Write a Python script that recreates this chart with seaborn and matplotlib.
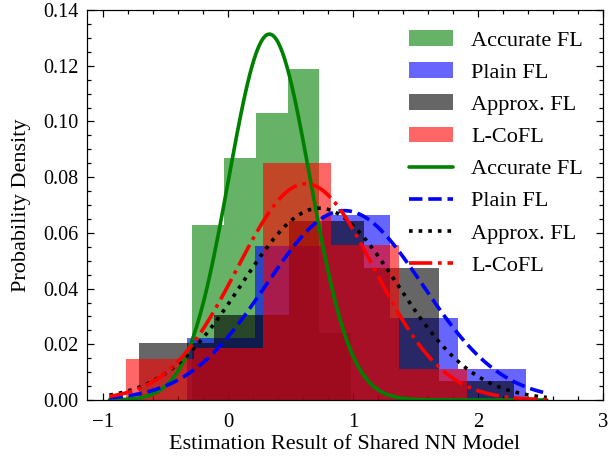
import numpy as np
import pandas as pd
import matplotlib
matplotlib.use("Agg")
import matplotlib.pyplot as plt
from matplotlib.patches import Patch
from matplotlib.lines import Line2D
from matplotlib.ticker import MultipleLocator, FormatStrFormatter
import seaborn as sns

# Series names and colours
methods = ["Accurate FL", "Plain FL", "Approx. FL", "L-CoFL"]
colors = ["green", "blue", "black", "red"]
line_styles = ["-", "--", ":", "-."]

# Histogram bin edges and heights for each method
acc_edges = [-0.288, -0.034, 0.221, 0.475, 0.730, 0.984]
acc_heights = [0.063, 0.087, 0.103, 0.119, 0.024]

plain_edges = [-0.330, 0.212, 0.754, 1.296, 1.838, 2.380]
plain_heights = [0.0224, 0.0553, 0.0664, 0.0293, 0.0111]

approx_edges = [-0.712, -0.112, 0.488, 1.088, 1.688, 2.288]
approx_heights = [0.0203, 0.0305, 0.0642, 0.0475, 0.0068]

lcofl_edges = [-0.815, -0.270, 0.275, 0.820, 1.365, 1.910]
lcofl_heights = [0.0147, 0.0188, 0.085, 0.0556, 0.0111]

# Fitted normal curves: mean, std and overall scale
fit_means = [0.33, 0.93, 0.73, 0.62]
fit_stds = [0.325, 0.628, 0.62, 0.55]
fit_scale = 0.107
curve_range = (-0.95, 2.55)

# Axis settings
x_limits = (-1.13, 3.0)
y_limits = (0.0, 0.14)
x_label = "Estimation Result of Shared NN Model"
y_label = "Probability Density"

sns.set_theme(style="ticks")
plt.rcParams.update({
    "font.family": ["Liberation Serif", "DejaVu Serif"],
    "mathtext.fontset": "stix",
    "font.size": 8,
    "axes.linewidth": 0.5,
    "xtick.direction": "in",
    "ytick.direction": "in",
    "xtick.top": True,
    "ytick.right": True,
    "xtick.major.size": 3,
    "ytick.major.size": 3,
    "xtick.minor.size": 1.5,
    "ytick.minor.size": 1.5,
    "xtick.major.width": 0.5,
    "ytick.major.width": 0.5,
    "xtick.minor.width": 0.5,
    "ytick.minor.width": 0.5,
    "xtick.minor.visible": True,
    "ytick.minor.visible": True,
    "xtick.color": "black",
    "ytick.color": "black",
    "axes.edgecolor": "black",
    "text.color": "black",
    "axes.labelcolor": "black",
    "xtick.labelsize": 8.6,
    "ytick.labelsize": 8.3,
    "axes.labelsize": 9.2,
    "legend.fontsize": 9.2,
    "xtick.major.pad": 5.5,
})

dpi = 610 / 3.5
fig = plt.figure(figsize=(3.5, 466 / dpi), dpi=dpi)
ax = fig.add_axes([87 / 610, 1 - 400 / 466, 516 / 610, 390 / 466])

hist_sets = [
    (acc_edges, acc_heights),
    (plain_edges, plain_heights),
    (approx_edges, approx_heights),
    (lcofl_edges, lcofl_heights),
]

for (edges, heights), col in zip(hist_sets, colors):
    e = np.asarray(edges)
    centers = (e[:-1] + e[1:]) / 2
    df = pd.DataFrame({"value": centers, "weight": heights})
    sns.histplot(data=df, x="value", weights="weight", bins=list(edges),
                 stat="count", color=col, alpha=0.6, linewidth=0,
                 edgecolor="none", ax=ax)

xs = np.linspace(curve_range[0], curve_range[1], 400)
for mu, sd, col, ls in zip(fit_means, fit_stds, colors, line_styles):
    pdf = fit_scale * np.exp(-0.5 * ((xs - mu) / sd) ** 2) / (sd * np.sqrt(2 * np.pi))
    sns.lineplot(x=xs, y=pdf, color=col, linestyle=ls, linewidth=1.5, ax=ax)

ax.set_xlim(*x_limits)
ax.set_ylim(*y_limits)
ax.xaxis.set_major_locator(MultipleLocator(1))
ax.xaxis.set_minor_locator(MultipleLocator(0.2))
ax.yaxis.set_major_locator(MultipleLocator(0.02))
ax.yaxis.set_minor_locator(MultipleLocator(0.005))
ax.yaxis.set_major_formatter(FormatStrFormatter("%.2f"))
ax.set_xlabel(x_label, labelpad=1.0)
ax.set_ylabel(y_label, labelpad=5)

handles = [Patch(facecolor=c, alpha=0.6, edgecolor="none") for c in colors]
handles += [Line2D([0], [0], color=c, linestyle=ls, linewidth=1.5)
            for c, ls in zip(colors, line_styles)]
labels = methods + methods
ax.legend(handles, labels, loc="upper right", frameon=False,
          handlelength=2.0, labelspacing=0.52)

fig.savefig("out.png", dpi=dpi)
